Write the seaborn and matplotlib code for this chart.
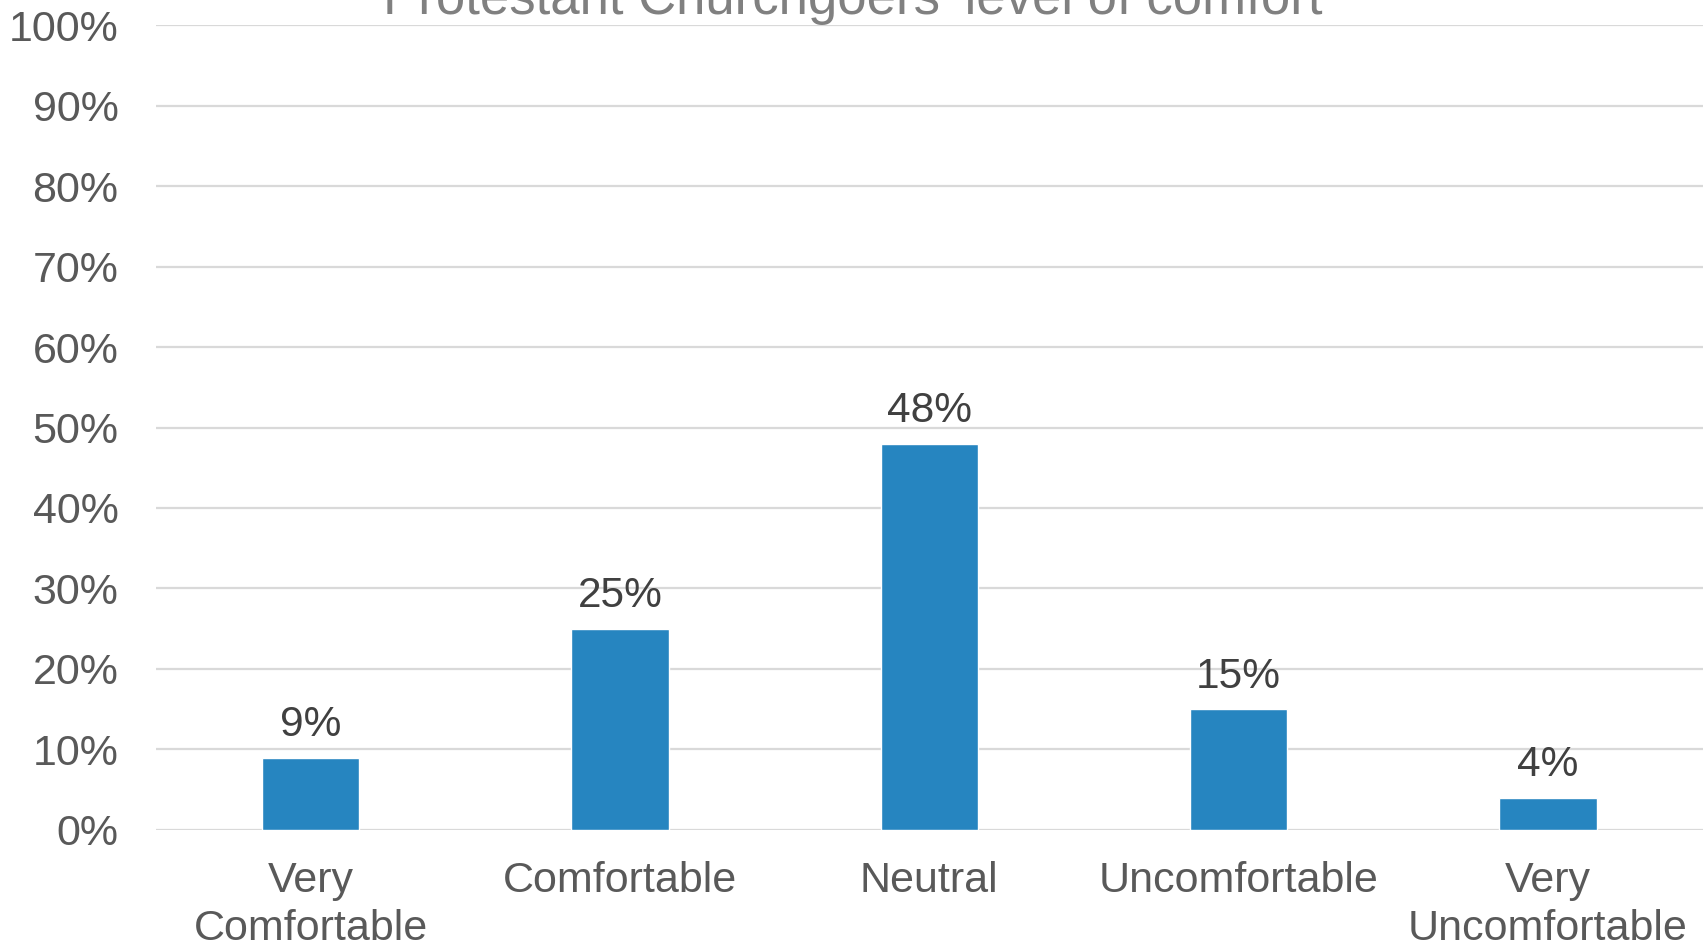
import seaborn as sns
import matplotlib.pyplot as plt
import pandas as pd

categories = ["Very\nComfortable", "Comfortable", "Neutral", "Uncomfortable", "Very\nUncomfortable"]
values = [9, 25, 48, 15, 4]
title = "Protestant Churchgoers' level of comfort"

df = pd.DataFrame({"category": categories, "value": values})

sns.set_style("white")
plt.rcParams['font.family'] = ['Liberation Sans', 'DejaVu Sans']

fig = plt.figure(figsize=(17.06, 9.48), dpi=100)
ax = fig.add_axes([0.0914, 0.1245, 0.9066, 0.8491])

sns.barplot(x="category", y="value", data=df, color="#2685c0", saturation=1,
            width=0.315, ax=ax)

# Gridlines
ax.set_ylim(0, 100)
ax.set_xlim(-0.5, 4.5)
ax.set_yticks(range(0, 101, 10))
ax.set_yticklabels(["%d%%" % v for v in range(0, 101, 10)])
ax.yaxis.grid(True, color="#d9d9d9", linewidth=1.6)
ax.set_axisbelow(True)
sns.despine(left=True, bottom=True)

ax.tick_params(axis='y', length=0, pad=27, labelsize=31, labelcolor="#595959")
ax.tick_params(axis='x', length=0, pad=22, labelsize=31, labelcolor="#595959")
for lbl in ax.get_xticklabels():
    lbl.set_linespacing(1.27)
ax.set_xlabel("")
ax.set_ylabel("")

ax.bar_label(ax.containers[0], labels=["%d%%" % v for v in values],
             padding=9, fontsize=30.5, color="#404040")

fig.text(0.5, 0.985, title, ha="center", va="baseline", fontsize=38, color="#808080")

plt.savefig("out.png", dpi=100)
